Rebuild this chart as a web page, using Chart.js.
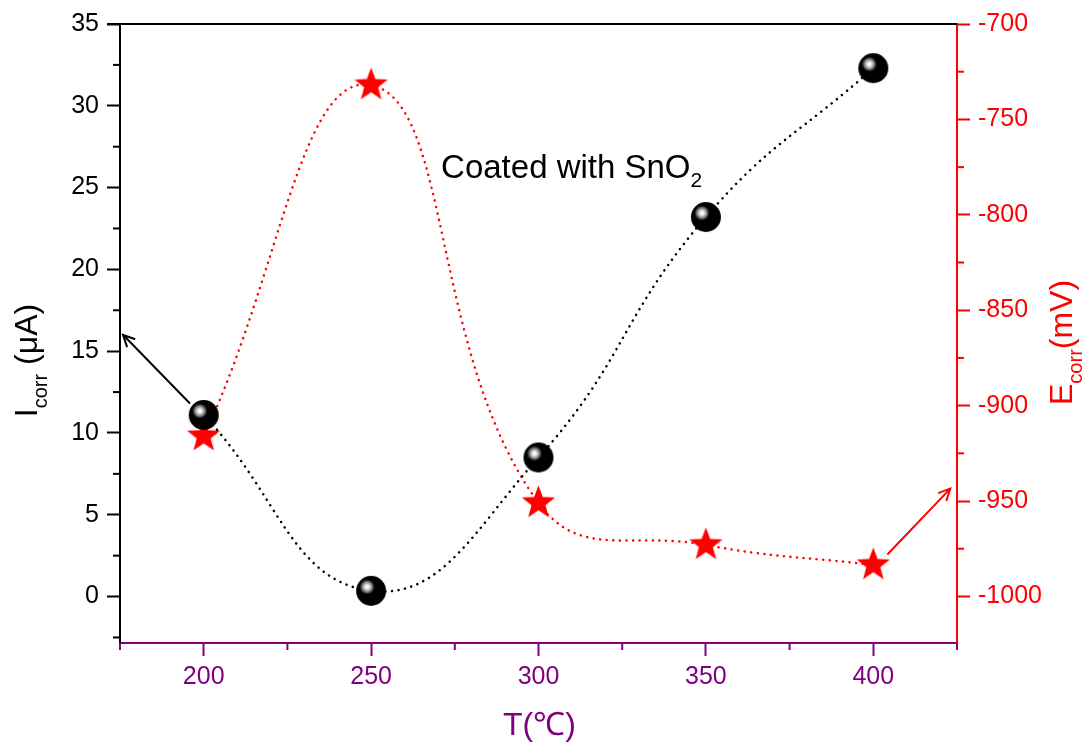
<!DOCTYPE html>
<html>
<head>
<meta charset="utf-8">
<script src="https://cdn.jsdelivr.net/npm/chart.js@4.4.1/dist/chart.umd.min.js"></script>
<style>
  html, body { margin: 0; padding: 0; background: #fff; }
  canvas { display: block; }
</style>
</head>
<body>
<canvas id="corrChart" width="1091" height="742"></canvas>
<script>
// annealing temperature, °C
const temperatures = [200, 250, 300, 350, 400];
// corrosion current density, µA
const icorrValues = [11.1, 0.35, 8.5, 23.2, 32.3];
// corrosion potential, mV
const ecorrValues = [-916, -732, -951, -973, -983.5];

const xTicks = [200, 250, 300, 350, 400];
const icorrTicks = [0, 5, 10, 15, 20, 25, 30, 35];
const ecorrTicks = [-1000, -950, -900, -850, -800, -750, -700];

const FONT = "'Liberation Sans', Arial, sans-serif";
const PURPLE = '#800080';
const RED = '#ff0000';

// black glossy ball marker
function makeBall(r) {
  const c = document.createElement('canvas');
  c.width = c.height = r * 2 + 2;
  const g = c.getContext('2d');
  const cx = r + 1, cy = r + 1;
  g.beginPath();
  g.arc(cx, cy, r, 0, Math.PI * 2);
  g.fillStyle = '#000';
  g.fill();
  const hx = cx - 4, hy = cy - 4;
  const grad = g.createRadialGradient(hx, hy, 0, hx, hy, 8);
  grad.addColorStop(0, '#ffffff');
  grad.addColorStop(0.2, '#f4f4f4');
  grad.addColorStop(0.45, '#b4b4b4');
  grad.addColorStop(0.75, '#505050');
  grad.addColorStop(1, 'rgba(0,0,0,0)');
  g.fillStyle = grad;
  g.beginPath();
  g.arc(hx, hy, 8, 0, Math.PI * 2);
  g.fill();
  return c;
}

// filled five-point star marker
function makeStar(R, ratio, color) {
  const size = Math.ceil(R * 2) + 2;
  const c = document.createElement('canvas');
  c.width = c.height = size;
  const g = c.getContext('2d');
  const cx = size / 2, cy = size / 2;
  g.beginPath();
  for (let i = 0; i < 10; i++) {
    const a = -Math.PI / 2 + i * Math.PI / 5;
    const rr = i % 2 ? R * ratio : R;
    const px = cx + rr * Math.cos(a), py = cy + rr * Math.sin(a);
    if (i === 0) g.moveTo(px, py); else g.lineTo(px, py);
  }
  g.closePath();
  g.fillStyle = color;
  g.fill();
  return c;
}

// draw a run of text pieces (for subscripts)
function drawRich(ctx, parts, x, y) {
  let cx = x;
  for (const p of parts) {
    ctx.font = p.font;
    ctx.fillText(p.text, cx, y + (p.dy || 0));
    cx += ctx.measureText(p.text).width;
  }
}

function richWidth(ctx, parts) {
  let w = 0;
  for (const p of parts) {
    ctx.font = p.font;
    w += ctx.measureText(p.text).width;
  }
  return w;
}

function drawArrow(ctx, x1, y1, x2, y2, color) {
  const ang = Math.atan2(y2 - y1, x2 - x1);
  const len = 13, spread = 0.45;
  ctx.save();
  ctx.strokeStyle = color;
  ctx.lineWidth = 2;
  ctx.beginPath();
  ctx.moveTo(x1, y1);
  ctx.lineTo(x2, y2);
  ctx.moveTo(x2 - len * Math.cos(ang - spread), y2 - len * Math.sin(ang - spread));
  ctx.lineTo(x2, y2);
  ctx.lineTo(x2 - len * Math.cos(ang + spread), y2 - len * Math.sin(ang + spread));
  ctx.stroke();
  ctx.restore();
}

const decorPlugin = {
  id: 'decor',
  beforeDatasetsDraw(chart) {
    const { ctx, scales } = chart;
    const x = scales.x, yI = scales.yI, yE = scales.yE;
    // arrows pointing each series to its axis
    drawArrow(ctx, x.getPixelForValue(195.9), yI.getPixelForValue(11.8),
      x.getPixelForValue(175.9), yI.getPixelForValue(16.0), '#000');
    drawArrow(ctx, x.getPixelForValue(404.2), yE.getPixelForValue(-978),
      x.getPixelForValue(423), yE.getPixelForValue(-943.5), RED);
  },
  afterDraw(chart) {
    const { ctx, chartArea, scales } = chart;
    const x = scales.x, yI = scales.yI, yE = scales.yE;
    const { left, right, top, bottom } = chartArea;
    ctx.save();

    // top frame line
    ctx.strokeStyle = '#000';
    ctx.lineWidth = 2;
    ctx.beginPath();
    ctx.moveTo(left - 13, top);
    ctx.lineTo(right, top);
    ctx.stroke();

    // minor ticks halfway between majors
    const minor = (vals, step) => {
      const out = [];
      for (let i = 0; i < vals.length - 1; i++) out.push((vals[i] + vals[i + 1]) / 2);
      out.unshift(vals[0] - step / 2);
      out.push(vals[vals.length - 1] + step / 2);
      return out;
    };
    ctx.lineWidth = 2;
    ctx.strokeStyle = '#000';
    for (const v of minor(icorrTicks, 5)) {
      if (v < yI.min || v > yI.max) continue;
      const py = yI.getPixelForValue(v);
      ctx.beginPath(); ctx.moveTo(left - 7, py); ctx.lineTo(left, py); ctx.stroke();
    }
    ctx.strokeStyle = RED;
    for (const v of minor(ecorrTicks, 50)) {
      if (v <= yE.min || v > yE.max) continue;
      const py = yE.getPixelForValue(v);
      ctx.beginPath(); ctx.moveTo(right, py); ctx.lineTo(right + 7, py); ctx.stroke();
    }
    ctx.strokeStyle = PURPLE;
    for (const v of minor(xTicks, 50)) {
      if (v < x.min || v > x.max) continue;
      const px = x.getPixelForValue(v);
      ctx.beginPath(); ctx.moveTo(px, bottom); ctx.lineTo(px, bottom + 7); ctx.stroke();
    }

    ctx.textAlign = 'left';
    ctx.textBaseline = 'alphabetic';

    // inline label
    ctx.fillStyle = '#000';
    drawRich(ctx, [
      { text: 'Coated with SnO', font: `33px ${FONT}` },
      { text: '2', font: `21px ${FONT}`, dy: 9 }
    ], x.getPixelForValue(270.9), yI.getPixelForValue(25.6));

    // left axis title
    const leftTitle = [
      { text: 'I', font: `32px ${FONT}` },
      { text: 'corr', font: `20px ${FONT}`, dy: 10 },
      { text: ' (\u03bcA)', font: `32px ${FONT}` }
    ];
    ctx.save();
    ctx.translate(37, (top + bottom) / 2 + richWidth(ctx, leftTitle) / 2 + 27);
    ctx.rotate(-Math.PI / 2);
    ctx.fillStyle = '#000';
    drawRich(ctx, leftTitle, 0, 0);
    ctx.restore();

    // right axis title
    ctx.save();
    ctx.translate(1072, 405);
    ctx.rotate(-Math.PI / 2);
    ctx.fillStyle = RED;
    drawRich(ctx, [
      { text: 'E', font: `32px ${FONT}` },
      { text: 'corr', font: `20px ${FONT}`, dy: 10 },
      { text: '(mV)', font: `32px ${FONT}` }
    ], 0, 0);
    ctx.restore();

    // bottom axis title
    ctx.fillStyle = PURPLE;
    ctx.font = `32px ${FONT}`;
    ctx.textAlign = 'center';
    ctx.fillText('T(\u2103)', (left + right) / 2 + 1, 735);

    ctx.restore();
  }
};

const ball = makeBall(15);
const star = makeStar(17.5, 0.42, RED);

new Chart(document.getElementById('corrChart').getContext('2d'), {
  type: 'line',
  data: {
    datasets: [
      {
        label: 'Icorr',
        data: temperatures.map((t, i) => ({ x: t, y: icorrValues[i] })),
        yAxisID: 'yI',
        borderColor: '#000',
        borderWidth: 2.5,
        borderDash: [0.1, 6.5],
        borderCapStyle: 'round',
        tension: 0.45,
        fill: false,
        pointStyle: ball,
        pointRadius: 15,
        order: 0
      },
      {
        label: 'Ecorr',
        data: temperatures.map((t, i) => ({ x: t, y: ecorrValues[i] })),
        yAxisID: 'yE',
        borderColor: RED,
        borderWidth: 2.5,
        borderDash: [0.1, 6.5],
        borderCapStyle: 'round',
        tension: 0.45,
        fill: false,
        pointStyle: star,
        pointRadius: 17,
        order: 1
      }
    ]
  },
  options: {
    responsive: false,
    animation: false,
    layout: { padding: { top: 24, left: 0, right: 0, bottom: 0 } },
    plugins: {
      legend: { display: false },
      tooltip: { enabled: false }
    },
    scales: {
      x: {
        type: 'linear',
        position: 'bottom',
        min: 175,
        max: 425,
        afterBuildTicks: s => { s.ticks = xTicks.map(v => ({ value: v })); },
        afterFit: s => { s.height = 99; },
        grid: { drawOnChartArea: false, color: PURPLE, tickLength: 13, tickWidth: 2 },
        border: { color: PURPLE, width: 2 },
        ticks: {
          color: PURPLE,
          font: { family: FONT, size: 25 },
          padding: 6,
          maxRotation: 0,
          callback: v => String(v)
        }
      },
      yI: {
        type: 'linear',
        position: 'left',
        min: -2.84,
        max: 35,
        afterBuildTicks: s => { s.ticks = icorrTicks.map(v => ({ value: v })); },
        afterFit: s => { s.width = 120; },
        grid: { drawOnChartArea: false, color: '#000', tickLength: 13, tickWidth: 2 },
        border: { color: '#000', width: 2 },
        ticks: {
          color: '#000',
          font: { family: FONT, size: 25 },
          padding: 8,
          callback: v => String(v)
        }
      },
      yE: {
        type: 'linear',
        position: 'right',
        min: -1024.4,
        max: -700,
        afterBuildTicks: s => { s.ticks = ecorrTicks.map(v => ({ value: v })); },
        afterFit: s => { s.width = 134; },
        grid: { drawOnChartArea: false, color: RED, tickLength: 13, tickWidth: 2 },
        border: { color: RED, width: 2 },
        ticks: {
          color: RED,
          font: { family: FONT, size: 25 },
          padding: 8,
          callback: v => String(v)
        }
      }
    }
  },
  plugins: [decorPlugin]
});
</script>
</body>
</html>
